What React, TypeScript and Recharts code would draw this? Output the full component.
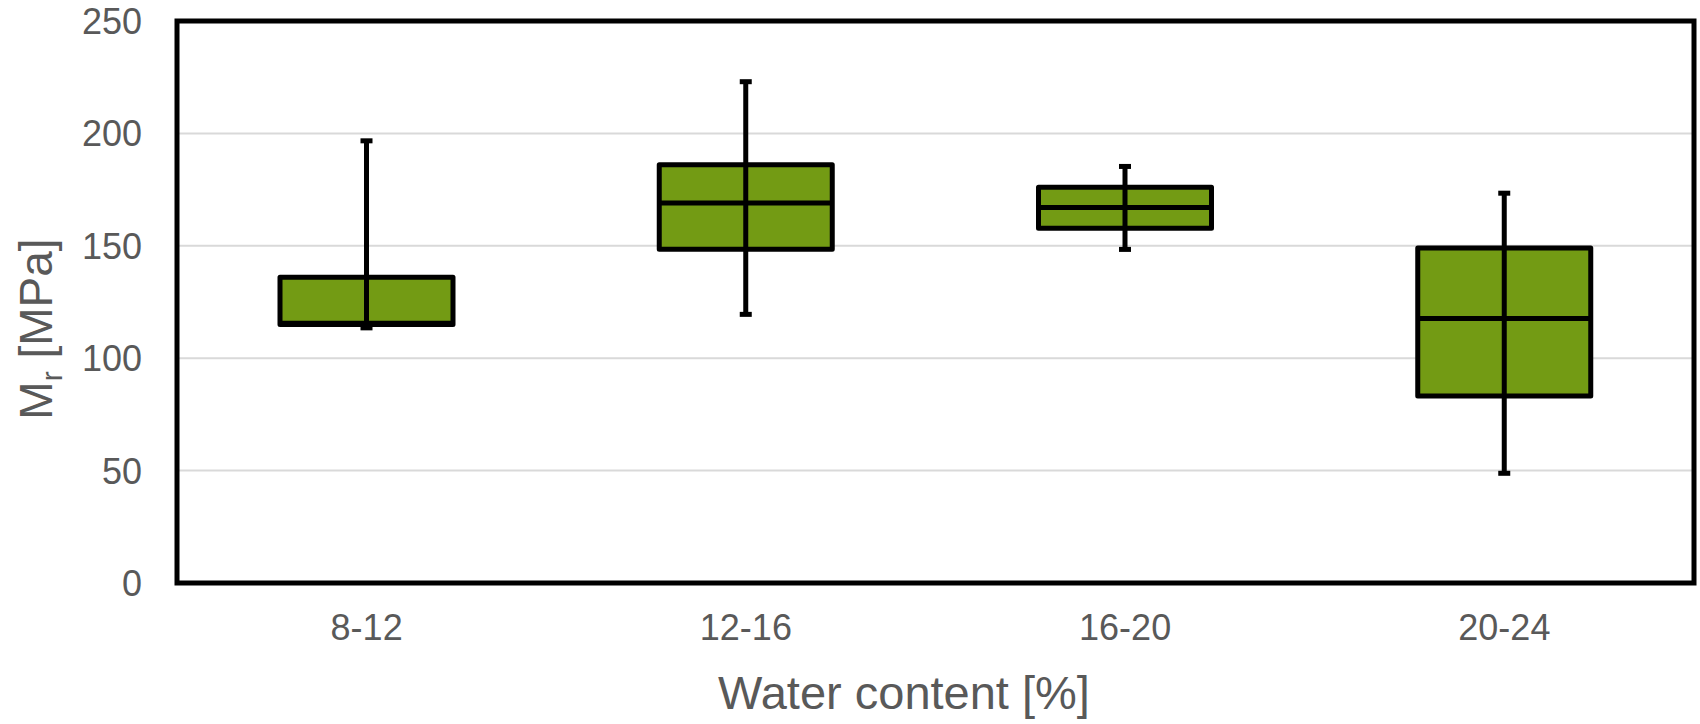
import { ComposedChart, CartesianGrid, XAxis, YAxis, Bar, ReferenceArea, Customized } from 'recharts'

const categories = ['8-12', '12-16', '16-20', '20-24']
const minValues = [113.5, 119.5, 148.4, 48.8]
const q1Values = [115, 148.5, 157.8, 83.2]
const medianValues = [115.5, 169, 167, 117.7]
const q3Values = [136, 186, 176, 149]
const maxValues = [196.7, 223, 185.3, 173.4]
const yTicks = [0, 50, 100, 150, 200, 250]

const data = categories.map((name, i) => ({
  name,
  box: [q1Values[i], q3Values[i]],
  min: minValues[i],
  q1: q1Values[i],
  median: medianValues[i],
  q3: q3Values[i],
  max: maxValues[i],
}))

const FONT = 'Arial, "Liberation Sans", sans-serif'
const TEXT = '#595959'
const FILL = '#739b14'

function BoxShape(props: any) {
  const { x, y, width, height, payload } = props
  if (payload == null) return null
  const k = height / (payload.q3 - payload.q1)
  const py = (v: number) => y + (payload.q3 - v) * k
  const cx = x + width / 2
  const top = py(payload.max)
  const bottom = py(payload.min)
  const med = py(payload.median)
  return (
    <g>
      <rect x={x} y={y} width={width} height={height} fill={FILL} stroke="#000" strokeWidth={5} strokeLinejoin="round" />
      <line x1={x} x2={x + width} y1={med} y2={med} stroke="#000" strokeWidth={5} />
      <line x1={cx} x2={cx} y1={top} y2={bottom} stroke="#000" strokeWidth={5} />
      <rect x={cx - 6} y={top - 2.5} width={12} height={5} fill="#000" />
      <rect x={cx - 6} y={bottom - 2.5} width={12} height={5} fill="#000" />
    </g>
  )
}

function XTick(props: any) {
  const { x, y, payload } = props
  return (
    <text x={x} y={y + 57} textAnchor="middle" fill={TEXT} fontSize={36} fontFamily={FONT}>
      {payload.value}
    </text>
  )
}

function YTick(props: any) {
  const { x, y, payload } = props
  return (
    <text x={x - 35} y={y + 13} textAnchor="end" fill={TEXT} fontSize={36} fontFamily={FONT}>
      {payload.value}
    </text>
  )
}

function Titles() {
  return (
    <g fontFamily={FONT} fill={TEXT}>
      <text x={904} y={709} textAnchor="middle" fontSize={47}>
        Water content [%]
      </text>
      <text x={52} y={329} textAnchor="middle" fontSize={46} transform="rotate(-90 52 329)">
        M
        <tspan fontSize={30} dy={10}>r</tspan>
        <tspan dy={-10}> [MPa]</tspan>
      </text>
    </g>
  )
}

export default function App() {
  return (
    <div style={{ position: 'absolute', left: 0, top: 0, width: 1700, height: 724, background: '#fff' }}>
      <ComposedChart width={1700} height={724} data={data} margin={{ top: 21, right: 6, bottom: 0, left: 0 }}>
        <CartesianGrid horizontal vertical={false} stroke="#d9d9d9" strokeWidth={2} />
        <XAxis
          dataKey="name"
          height={141}
          axisLine={false}
          tickLine={false}
          tickSize={0}
          tickMargin={0}
          tick={<XTick />}
          interval={0}
        />
        <YAxis
          width={177}
          domain={[0, 250]}
          ticks={yTicks}
          axisLine={false}
          tickLine={false}
          tickSize={0}
          tickMargin={0}
          tick={<YTick />}
        />
        <Bar dataKey="box" barSize={173} shape={<BoxShape />} isAnimationActive={false} />
        <ReferenceArea y1={0} y2={250} fill="none" stroke="#000" strokeWidth={5} ifOverflow="visible" />
        <Customized component={Titles} />
      </ComposedChart>
    </div>
  )
}
